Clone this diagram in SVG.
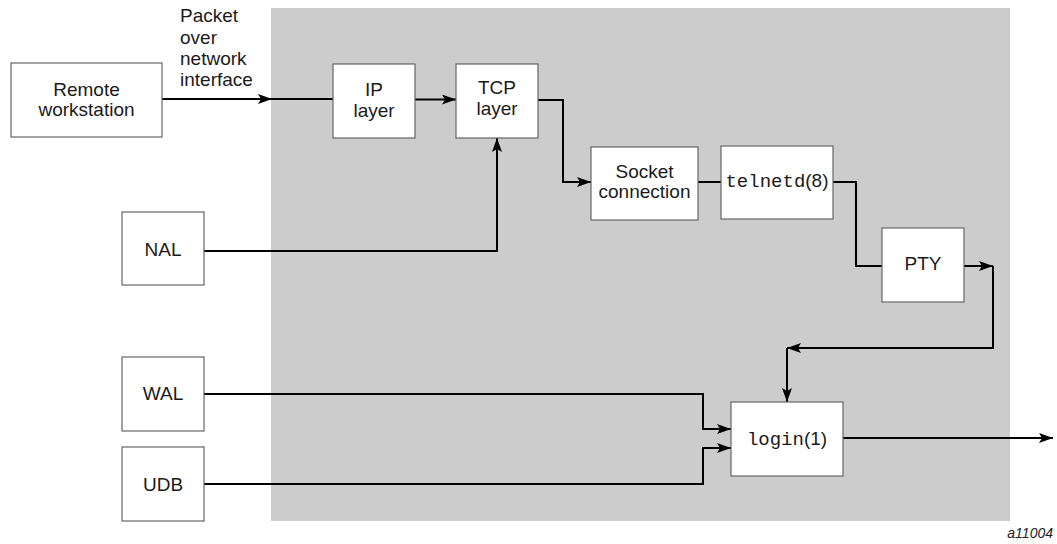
<svg xmlns="http://www.w3.org/2000/svg" width="1057" height="544" viewBox="0 0 1057 544">
  <style>
    .box { fill: #ffffff; stroke: #666666; stroke-width: 1.2; }
    .lbl { font-family: "Liberation Sans", Arial, sans-serif; font-size: 19px; fill: #1a1a1a; text-anchor: middle; }
    .mono { font-family: "Liberation Mono", "Courier New", monospace; }
    .wire { fill: none; stroke: #000000; stroke-width: 2; }
    .arr { marker-end: url(#head); }
  </style>
  <defs>
    <marker id="head" markerWidth="14" markerHeight="10" refX="14" refY="5" orient="auto" markerUnits="userSpaceOnUse">
      <path d="M0,0 L14,5 L0,10 L3,5 Z" fill="#000000"/>
    </marker>
  </defs>

  <!-- host boundary -->
  <rect x="271" y="8" width="739" height="513" fill="#cccccc"/>

  <!-- connectors -->
  <g id="connectors">
    <path class="wire arr" d="M162,99 H272"/>
    <path class="wire" d="M272,99 H333"/>
    <path class="wire arr" d="M415,99.5 H456"/>
    <path class="wire arr" d="M538,100 H563 V182 H591"/>
    <path class="wire" d="M698,182 H721"/>
    <path class="wire" d="M833,182 H856 V266 H882"/>
    <path class="wire arr" d="M964,266 H993"/>
    <path class="wire arr" d="M993,266 V348 H787"/>
    <path class="wire arr" d="M787,348 V402"/>
    <path class="wire arr" d="M204,251 H497 V138"/>
    <path class="wire arr" d="M204,394 H703 V429 H731"/>
    <path class="wire arr" d="M204,484 H703 V448 H731"/>
    <path class="wire arr" d="M843,438 H1053"/>
  </g>

  <text class="lbl" x="180" y="22" style="text-anchor:start">Packet</text>
  <text class="lbl" x="180" y="44" style="text-anchor:start">over</text>
  <text class="lbl" x="180" y="65" style="text-anchor:start">network</text>
  <text class="lbl" x="180" y="86" style="text-anchor:start">interface</text>

  <g id="remote">
    <rect class="box" x="11" y="63" width="151" height="74"/>
    <text class="lbl" x="86.5" y="96">Remote</text>
    <text class="lbl" x="86.5" y="116">workstation</text>
  </g>
  <g id="ip">
    <rect class="box" x="333" y="64" width="82" height="74"/>
    <text class="lbl" x="374" y="96">IP</text>
    <text class="lbl" x="374" y="117">layer</text>
  </g>
  <g id="tcp">
    <rect class="box" x="456" y="64" width="82" height="74"/>
    <text class="lbl" x="497" y="94">TCP</text>
    <text class="lbl" x="497" y="115">layer</text>
  </g>
  <g id="socket">
    <rect class="box" x="591" y="147" width="107" height="73"/>
    <text class="lbl" x="644.5" y="178">Socket</text>
    <text class="lbl" x="644.5" y="198">connection</text>
  </g>
  <g id="telnetd">
    <rect class="box" x="721" y="146" width="112" height="73"/>
    <text class="lbl" x="777" y="187"><tspan class="mono">telnetd</tspan>(8)</text>
  </g>
  <g id="pty">
    <rect class="box" x="882" y="228" width="82" height="74"/>
    <text class="lbl" x="923" y="270">PTY</text>
  </g>
  <g id="nal">
    <rect class="box" x="122" y="212" width="82" height="73"/>
    <text class="lbl" x="163" y="256">NAL</text>
  </g>
  <g id="wal">
    <rect class="box" x="122" y="357" width="82" height="74"/>
    <text class="lbl" x="163" y="400">WAL</text>
  </g>
  <g id="udb">
    <rect class="box" x="122" y="447" width="82" height="74"/>
    <text class="lbl" x="163" y="491">UDB</text>
  </g>
  <g id="login">
    <rect class="box" x="731" y="402" width="112" height="74"/>
    <text class="lbl" x="787" y="445"><tspan class="mono">login</tspan>(1)</text>
  </g>

  <text x="1053" y="538" font-family="'Liberation Sans', Arial, sans-serif" font-size="14" font-style="italic" fill="#1a1a1a" text-anchor="end">a11004</text>
</svg>
